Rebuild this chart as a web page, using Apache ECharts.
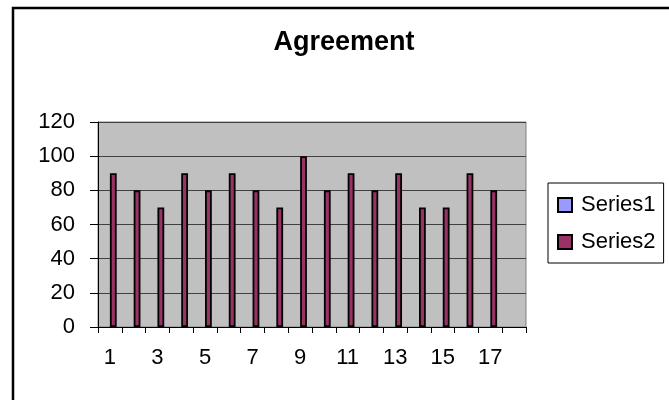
<!DOCTYPE html>
<html>
<head>
<meta charset="utf-8">
<script src="https://cdn.jsdelivr.net/npm/echarts@6/dist/echarts.min.js"></script>
<style>
html,body{margin:0;padding:0;background:#fff;}
#chart{width:669px;height:400px;}
</style>
</head>
<body>
<div id="chart"></div>
<script>
var titleText = 'Agreement';
var categories = ['1','2','3','4','5','6','7','8','9','10','11','12','13','14','15','16','17','18'];
var series1Values = [null,null,null,null,null,null,null,null,null,null,null,null,null,null,null,null,null,null];
var series2Values = [90,80,70,90,80,90,80,70,100,80,90,80,90,70,70,90,80,null];
var yTicks = {min: 0, max: 120, interval: 20};

var FONT = "'Liberation Sans', Arial, sans-serif";
var chart = echarts.init(document.getElementById('chart'), null, {renderer: 'canvas'});
chart.setOption({
  backgroundColor: '#ffffff',
  animation: false,
  graphic: [
    {type: 'rect', shape: {x: 13, y: 8, width: 700, height: 500}, style: {fill: 'none', stroke: '#000', lineWidth: 2.5}, z: 0},
    {type: 'text', x: 344, y: 43, style: {text: titleText, fontFamily: FONT, fontSize: 27, fontWeight: 'bold', fill: '#000', textAlign: 'center', textVerticalAlign: 'middle'}}
  ],
  grid: {left: 98, top: 122, width: 428, height: 205, show: true, backgroundColor: '#C0C0C0', borderColor: '#808080', borderWidth: 1},
  legend: {
    orient: 'vertical', left: 548, top: 183,
    padding: [11, 8, 10, 9], itemGap: 15,
    itemWidth: 14, itemHeight: 14, icon: 'rect',
    borderColor: '#000', borderWidth: 1, backgroundColor: '#fff',
    textStyle: {fontFamily: FONT, fontSize: 22, color: '#000', padding: [0,0,0,4]},
    data: ['Series1', 'Series2']
  },
  xAxis: {
    type: 'category', data: categories, boundaryGap: true,
    axisLine: {lineStyle: {color: '#000', width: 1}},
    axisTick: {show: true, interval: 0, length: 6, lineStyle: {color: '#000'}},
    axisLabel: {interval: 1, fontFamily: FONT, fontSize: 22, color: '#000', margin: 20},
    splitLine: {show: false}
  },
  yAxis: {
    type: 'value', min: yTicks.min, max: yTicks.max, interval: yTicks.interval,
    axisLine: {show: true, lineStyle: {color: '#000', width: 1}},
    axisTick: {show: true, length: 8, lineStyle: {color: '#000'}},
    axisLabel: {fontFamily: FONT, fontSize: 22, color: '#000', margin: 23},
    splitLine: {show: true, lineStyle: {color: '#404040', width: 1}}
  },
  series: [
    {name: 'Series1', type: 'bar', data: series1Values, barWidth: '28.57%', barGap: '0%',
     itemStyle: {color: '#9999FF', borderColor: '#000', borderWidth: 1}},
    {name: 'Series2', type: 'bar', data: series2Values, barWidth: '28.57%', barGap: '0%',
     itemStyle: {color: '#993366', borderColor: '#000', borderWidth: 1.8}}
  ]
});
</script>
</body>
</html>
